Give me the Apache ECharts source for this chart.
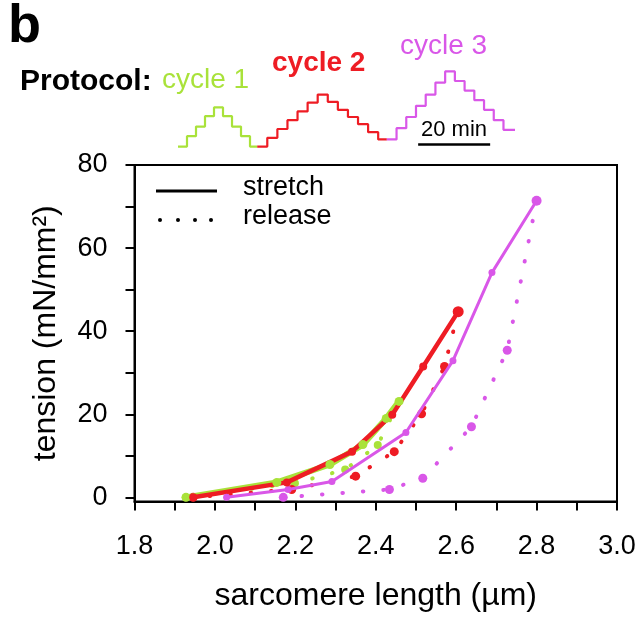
<!DOCTYPE html>
<html><head><meta charset="utf-8">
<script src="https://cdn.jsdelivr.net/npm/echarts@6/dist/echarts.min.js"></script>
<style>html,body{margin:0;padding:0;background:#fff}#c{width:640px;height:620px}</style>
</head><body><div id="c"></div>
<script>
const FONT = '"Liberation Sans", Arial, Helvetica, sans-serif';
const RED = '#ee1c24', MAG = '#d957e8', GRN = '#a9e23a';

// ---- main chart axes ----
const xTicks = [1.8, 1.9, 2.0, 2.1, 2.2, 2.3, 2.4, 2.5, 2.6, 2.7, 2.8, 2.9, 3.0];
const xLabels = [1.8, 2.0, 2.2, 2.4, 2.6, 2.8, 3.0];
const yTicks = [0, 10, 20, 30, 40, 50, 60, 70, 80];
const yLabels = [0, 20, 40, 60, 80];

// ---- cycle 1 (green) ----
const c1StretchX = [1.928, 2.154, 2.286, 2.368, 2.426, 2.458];
const c1StretchY = [0, 3.6, 7.9, 12.7, 19.0, 23.1];
const c1ReleaseX = [2.458, 2.405, 2.324, 2.199, 1.928];
const c1ReleaseY = [23.1, 12.6, 6.7, 3.4, 0];
// ---- cycle 2 (red) ----
const c2StretchX = [1.946, 2.179, 2.341, 2.441, 2.518, 2.605];
const c2StretchY = [0, 3.6, 11.0, 19.9, 31.5, 44.7];
const c2ReleaseX = [2.605, 2.571, 2.514, 2.446, 2.350, 2.191, 1.946];
const c2ReleaseY = [44.7, 31.5, 20.1, 11.0, 5.1, 1.9, 0];
// ---- cycle 3 (magenta) ----
const c3StretchX = [2.029, 2.182, 2.291, 2.475, 2.592, 2.689, 2.800];
const c3StretchY = [0, 1.9, 3.8, 15.6, 32.9, 54.1, 71.4];
const c3ReleaseX = [2.800, 2.727, 2.638, 2.517, 2.434, 2.170];
const c3ReleaseY = [71.4, 35.4, 17.0, 4.6, 1.9, 0];

// ---- protocol (time in min, length in µm) ----
const p1Time = [0, 2.5, 5, 7.5, 10, 12.5, 15, 17.5, 20, 22];
const p1Level = [1.93, 2.06, 2.18, 2.31, 2.42, 2.31, 2.18, 2.06, 1.93, 1.93];
const p2Time = [22, 24.8, 27.6, 30.4, 33.2, 36, 38.8, 41.6, 44.4, 47.2, 50, 52.8, 55.6, 58];
const p2Level = [1.93, 2.04, 2.15, 2.26, 2.37, 2.48, 2.58, 2.49, 2.39, 2.30, 2.21, 2.11, 2.02, 2.02];
const p3Time = [58, 60.7, 63.4, 66.1, 68.8, 71.5, 74.2, 76.9, 79.6, 82.3, 85, 87.7, 90.4, 93.6];
const p3Level = [2.02, 2.16, 2.30, 2.44, 2.58, 2.73, 2.87, 2.75, 2.63, 2.51, 2.39, 2.26, 2.14, 2.14];
const scaleBarTime = [66.7, 86.7];
const scaleBarLevel = [1.955, 1.955];

const pairs = (xs, ys) => xs.map((x, i) => [x, ys[i]]);

function stretch(xs, ys, color, width, size, endSize) {
  return {
    type: 'line', xAxisIndex: 0, yAxisIndex: 0, data: pairs(xs, ys),
    lineStyle: { color, width }, itemStyle: { color },
    symbol: 'circle',
    symbolSize: (v, p) => p.dataIndex === xs.length - 1 ? endSize : size,
    silent: true, animation: false, z: 3
  };
}
function release(xs, ys, color, size) {
  return {
    type: 'line', xAxisIndex: 0, yAxisIndex: 0, data: pairs(xs, ys),
    lineStyle: { color, width: 4, type: [0.5, 20], cap: 'round' },
    itemStyle: { color },
    symbol: 'circle',
    symbolSize: (v, p) => p.dataIndex === 0 ? 0 : size,
    silent: true, animation: false, z: 2
  };
}
function proto(ts, ls, color) {
  return {
    type: 'line', xAxisIndex: 1, yAxisIndex: 1, data: pairs(ts, ls),
    step: 'end', symbol: 'none', lineStyle: { color, width: 2.2 },
    silent: true, animation: false
  };
}

const chart = echarts.init(document.getElementById('c'), null, { renderer: 'canvas' });
chart.setOption({
  backgroundColor: '#fff',
  textStyle: { fontFamily: FONT },
  grid: [
    { left: 134.5, right: 23, top: 165, bottom: 118.5, show: true,
      borderColor: '#000', borderWidth: 2, backgroundColor: 'transparent' },
    { left: 178, width: 337, top: 65, height: 92, show: false }
  ],
  xAxis: [
    { type: 'value', gridIndex: 0, min: 1.8, max: 3.0,
      name: 'sarcomere length (µm)', nameLocation: 'middle', nameGap: 79,
      nameTextStyle: { fontSize: 32, color: '#000', fontFamily: FONT },
      axisLine: { show: true, onZero: false, lineStyle: { color: '#000', width: 2 } },
      axisTick: { show: true, inside: false, length: 9, customValues: xTicks, lineStyle: { color: '#000', width: 2 } },
      axisLabel: { customValues: xLabels, margin: 32, fontSize: 27, color: '#000', fontFamily: FONT,
        formatter: v => Number(v).toFixed(1) },
      splitLine: { show: false } },
    { type: 'value', gridIndex: 1, min: 0, max: 93.6, show: false }
  ],
  yAxis: [
    { type: 'value', gridIndex: 0, min: -1, max: 80,
      name: 'tension (mN/mm²)', nameLocation: 'middle', nameGap: 72,
      nameTextStyle: { fontSize: 32, color: '#000', fontFamily: FONT },
      axisLine: { show: true, onZero: false, lineStyle: { color: '#000', width: 2 } },
      axisTick: { show: true, inside: false, length: 9, customValues: yTicks, lineStyle: { color: '#000', width: 2 } },
      axisLabel: { customValues: yLabels, margin: 27, fontSize: 27, color: '#000', fontFamily: FONT },
      splitLine: { show: false } },
    { type: 'value', gridIndex: 1, min: 1.8, max: 2.95, show: false }
  ],
  series: [
    release(c1ReleaseX, c1ReleaseY, GRN, 8),
    release(c2ReleaseX, c2ReleaseY, RED, 9),
    release(c3ReleaseX, c3ReleaseY, MAG, 9),
    stretch(c1StretchX, c1StretchY, GRN, 6, 9, 9),
    stretch(c3StretchX, c3StretchY, MAG, 3, 7, 10),
    stretch(c2StretchX, c2StretchY, RED, 4.5, 8, 11),
    proto(p1Time, p1Level, GRN),
    proto(p2Time, p2Level, RED),
    proto(p3Time, p3Level, MAG),
    { type: 'line', xAxisIndex: 1, yAxisIndex: 1, data: pairs(scaleBarTime, scaleBarLevel),
      symbol: 'none', lineStyle: { color: '#000', width: 2.5 }, silent: true, animation: false }
  ],
  graphic: [
    { type: 'text', x: 8, y: 0, style: { text: 'b', font: 'bold 54px ' + FONT, fill: '#000' } },
    { type: 'text', x: 20, y: 82, style: { text: 'Protocol:', font: 'bold 30px ' + FONT, fill: '#000', verticalAlign: 'middle' } },
    { type: 'text', x: 162, y: 80, style: { text: 'cycle 1', font: '28px ' + FONT, fill: GRN, verticalAlign: 'middle' } },
    { type: 'text', x: 272, y: 63, style: { text: 'cycle 2', font: 'bold 28px ' + FONT, fill: RED, verticalAlign: 'middle' } },
    { type: 'text', x: 400, y: 46, style: { text: 'cycle 3', font: '28px ' + FONT, fill: MAG, verticalAlign: 'middle' } },
    { type: 'text', x: 454, y: 130, style: { text: '20 min', font: '22px ' + FONT, fill: '#000', align: 'center', verticalAlign: 'middle' } },
    { type: 'line', shape: { x1: 156, y1: 191, x2: 217, y2: 191 }, style: { stroke: '#000', lineWidth: 3 } },
    { type: 'circle', shape: { cx: 160, cy: 220, r: 2 }, style: { fill: '#000' } },
    { type: 'circle', shape: { cx: 178, cy: 220, r: 2 }, style: { fill: '#000' } },
    { type: 'circle', shape: { cx: 195, cy: 220, r: 2 }, style: { fill: '#000' } },
    { type: 'circle', shape: { cx: 211, cy: 220, r: 2 }, style: { fill: '#000' } },
    { type: 'text', x: 243, y: 188, style: { text: 'stretch', font: '27px ' + FONT, fill: '#000', verticalAlign: 'middle' } },
    { type: 'text', x: 243, y: 217, style: { text: 'release', font: '27px ' + FONT, fill: '#000', verticalAlign: 'middle' } }
  ]
});
</script>
</body></html>
